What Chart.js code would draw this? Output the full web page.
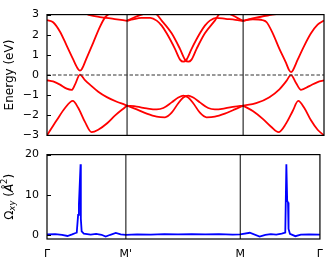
<!DOCTYPE html>
<html><head><meta charset="utf-8">
<script src="https://cdn.jsdelivr.net/npm/chart.js@4/dist/chart.umd.min.js"></script>
<style>
html,body{margin:0;padding:0;background:#fff;}
#wrap{position:relative;width:332px;height:262px;overflow:hidden;}
#c1{position:absolute;left:0;top:0;}
#c2{position:absolute;left:0;top:140px;}
</style></head><body>
<div id="wrap"><canvas id="c1" width="332" height="150"></canvas><canvas id="c2" width="332" height="122"></canvas></div>
<script>
// ---- path / ticks ----
const kTicks = [0, 0.289, 0.708, 1];
const kLabels = ['Γ', "M'", 'M', 'Γ'];
const eTicks = [-3, -2, -1, 0, 1, 2, 3];
const oTicks = [0, 10, 20];

// ---- band energies (eV) : [k, E] ----
const vbUpperLeft = [[0,-0.26],[0.022,-0.32],[0.047,-0.48],[0.071,-0.68],[0.089,-0.74],[0.101,-0.48],[0.119,0.02],[0.137,-0.25],[0.155,-0.48],[0.185,-0.83],[0.216,-1.1],[0.252,-1.33],[0.282,-1.48],[0.289,-1.52]];
const vbLowerLeft = [[0,-3.0],[0.035,-2.25],[0.065,-1.64],[0.093,-1.29],[0.113,-1.64],[0.137,-2.33],[0.161,-2.84],[0.185,-2.72],[0.216,-2.41],[0.245,-2.02],[0.282,-1.6],[0.289,-1.52]];
const vbMidA = [[0.289,-1.52],[0.324,-1.57],[0.360,-1.66],[0.396,-1.71],[0.420,-1.64],[0.450,-1.36],[0.474,-1.12],[0.492,-1.02],[0.510,-1.12],[0.528,-1.4],[0.552,-1.87],[0.576,-2.1],[0.606,-2.07],[0.642,-1.92],[0.678,-1.71],[0.708,-1.52]];
const vbMidB = [[0.289,-1.52],[0.324,-1.71],[0.360,-1.92],[0.396,-2.07],[0.426,-2.1],[0.450,-1.87],[0.474,-1.4],[0.492,-1.12],[0.510,-1.02],[0.528,-1.12],[0.552,-1.36],[0.582,-1.64],[0.606,-1.71],[0.642,-1.66],[0.678,-1.57],[0.708,-1.52]];
const vbUpperRight = [[0.708,-1.52],[0.755,-1.4],[0.803,-1.1],[0.839,-0.71],[0.863,-0.32],[0.881,-0.01],[0.899,-0.4],[0.917,-0.74],[0.947,-0.55],[0.977,-0.35],[1,-0.27]];
const vbLowerRight = [[0.708,-1.52],[0.743,-1.79],[0.779,-2.18],[0.809,-2.57],[0.836,-2.84],[0.863,-2.41],[0.887,-1.79],[0.907,-1.29],[0.929,-1.64],[0.953,-2.25],[0.977,-2.72],[1,-3.0]];
const cbLeft = [[0,2.73],[0.022,2.62],[0.047,2.15],[0.071,1.46],[0.095,0.76],[0.112,0.3],[0.119,0.22],[0.126,0.3],[0.143,0.84],[0.167,1.61],[0.191,2.39],[0.209,2.85],[0.221,3.0],[0.24,3.2]];
const cbRight = [[0.708,2.69],[0.743,2.77],[0.779,2.72],[0.793,2.62],[0.815,2.07],[0.839,1.3],[0.863,0.6],[0.874,0.24],[0.881,0.14],[0.888,0.24],[0.905,0.76],[0.929,1.46],[0.953,2.07],[0.977,2.5],[1,2.71]];
const cbMidA = [[0.289,2.69],[0.31,2.76],[0.34,2.84],[0.373,2.84],[0.396,2.7],[0.414,2.45],[0.432,2.07],[0.462,1.3],[0.481,0.75],[0.492,0.66],[0.503,0.75],[0.522,1.3],[0.552,2.07],[0.570,2.45],[0.588,2.7],[0.611,2.84],[0.645,2.79],[0.68,2.74],[0.708,2.69]];
const cbMidB = [[0.289,2.69],[0.31,2.83],[0.336,2.97],[0.36,3.06],[0.39,3.05],[0.414,2.7],[0.450,2.07],[0.480,1.3],[0.499,0.75],[0.510,0.66],[0.521,0.75],[0.540,1.3],[0.570,2.07],[0.606,2.7],[0.625,3.04],[0.66,3.02],[0.685,2.85],[0.708,2.69]];
const cbTopLeft = [[0.14,3.05],[0.155,2.97],[0.191,2.88],[0.245,2.78],[0.289,2.69]];
const cbTopRight = [[0.708,2.69],[0.755,2.85],[0.803,2.97],[0.84,3.05]];

// ---- Berry curvature Omega_xy (A^2) : [k, value] ----
const berry = [[0,0.15],[0.03,0.2],[0.055,0.05],[0.075,-0.25],[0.092,0.15],[0.105,0.5],[0.109,0.6],[0.114,5],[0.117,7.7],[0.123,17.6],[0.124,4],[0.127,0.9],[0.135,0.35],[0.16,0.1],[0.18,0.25],[0.2,0.05],[0.215,-0.4],[0.232,0.05],[0.252,0.5],[0.27,0.15],[0.289,0.05],[0.33,0.15],[0.38,0.1],[0.43,0.2],[0.48,0.15],[0.53,0.2],[0.58,0.15],[0.63,0.2],[0.68,0.1],[0.708,0.15],[0.743,0.55],[0.779,-0.4],[0.80,0.05],[0.82,0.2],[0.84,0.1],[0.86,0.35],[0.873,0.6],[0.877,17.6],[0.880,8.5],[0.883,8.1],[0.885,1.5],[0.89,0.3],[0.91,-0.3],[0.93,0.1],[0.96,0.15],[1,0.1]];

const FONT = 'DejaVu Sans';
const bands = [vbUpperLeft, vbLowerLeft, vbMidA, vbMidB, vbUpperRight, vbLowerRight, cbLeft, cbRight, cbMidA, cbMidB, cbTopLeft, cbTopRight];
const pts = a => a.map(([x, y]) => ({x, y}));
const minus = v => String(v).replace('-', '\u2212');

const framePlugin = {
  id: 'frame',
  afterDatasetsDraw(chart) {
    const a = chart.chartArea, c = chart.ctx;
    c.save();
    c.strokeStyle = '#000'; c.lineWidth = 1.2;
    c.strokeRect(a.left, a.top, a.right - a.left, a.bottom - a.top);
    const ys = chart.scales.y;
    c.lineWidth = 1;
    ys.ticks.forEach(t => {
      const p = Math.round(ys.getPixelForValue(t.value)) + 0.5;
      c.beginPath(); c.moveTo(a.left, p); c.lineTo(a.left + 4, p); c.stroke();
    });
    c.restore();
  }
};

const vline = k => (lo, hi) => ({data: [{x: k, y: lo}, {x: k, y: hi}], borderColor: '#000', borderWidth: 1, pointRadius: 0, tension: 0, clip: 0});

// ---- top panel ----
const topSets = [];
topSets.push({data: [{x: 0, y: 0}, {x: 1, y: 0}], borderColor: '#333', borderWidth: 1, borderDash: [3.5, 2], pointRadius: 0, clip: 0});
[kTicks[1], kTicks[2]].forEach(k => topSets.push(vline(k)(-3, 3)));
bands.forEach(b => topSets.push({data: pts(b), borderColor: '#ff0000', borderWidth: 1.8, pointRadius: 0, cubicInterpolationMode: 'monotone', clip: 0}));

new Chart(document.getElementById('c1'), {
  type: 'line',
  data: {datasets: topSets},
  options: {
    responsive: false, animation: false, devicePixelRatio: 1,
    layout: {padding: {left: 0, right: 8, top: 7, bottom: 14}},
    plugins: {legend: {display: false}, tooltip: {enabled: false}},
    scales: {
      x: {type: 'linear', min: 0, max: 1, display: false},
      y: {
        type: 'linear', min: -3, max: 3,
        afterBuildTicks: s => { s.ticks = eTicks.map(v => ({value: v})); },
        afterFit: s => { s.width = 47; },
        grid: {display: false, drawTicks: false},
        border: {display: false},
        ticks: {font: {family: FONT, size: 11}, color: '#000', padding: 8, callback: v => minus(v)},
        title: {display: true, text: 'Energy (eV)', color: '#000', font: {family: FONT, size: 12}, padding: {top: 3, bottom: 0}}
      }
    }
  },
  plugins: [framePlugin]
});

// ---- bottom panel ----
const botSets = [];
[kTicks[1], kTicks[2]].forEach(k => botSets.push(vline(k)(-1, 20)));
botSets.push({data: pts(berry), borderColor: '#0000ff', borderWidth: 1.8, pointRadius: 0, tension: 0, clip: 0});

const omegaTitle = {
  id: 'omegaTitle',
  afterDraw(chart) {
    const a = chart.chartArea, c = chart.ctx;
    const cy = (a.top + a.bottom) / 2, cx = 10;
    c.save();
    c.translate(cx, cy); c.rotate(-Math.PI / 2);
    c.fillStyle = '#000'; c.textBaseline = 'middle';
    const big = `12px "${FONT}"`, bigI = `italic 12px "${FONT}"`, small = `italic 8.5px "${FONT}"`, smallN = `8.5px "${FONT}"`;
    const parts = [
      ['Ω', big, 0], ['xy', small, 3], [' (', big, 0], ['Å', bigI, 0], ['2', smallN, -5], [')', big, 0]
    ];
    let w = 0;
    parts.forEach(p => { c.font = p[1]; w += c.measureText(p[0]).width; });
    let x = -w / 2;
    parts.forEach(p => { c.font = p[1]; c.fillText(p[0], x, p[2]); x += c.measureText(p[0]).width; });
    c.restore();
  }
};

new Chart(document.getElementById('c2'), {
  type: 'line',
  data: {datasets: botSets},
  options: {
    responsive: false, animation: false, devicePixelRatio: 1,
    layout: {padding: {left: 0, right: 8, top: 13, bottom: 0}},
    plugins: {legend: {display: false}, tooltip: {enabled: false}},
    scales: {
      x: {
        type: 'linear', min: 0, max: 1,
        afterBuildTicks: s => { s.ticks = kTicks.map(v => ({value: v})); },
        afterFit: s => { s.height = 23; },
        grid: {display: false, drawTicks: false},
        border: {display: false},
        ticks: {font: {family: FONT, size: 11}, color: '#000', padding: 9, maxRotation: 0, autoSkip: false,
                callback: (v, i) => kLabels[i]}
      },
      y: {
        type: 'linear', min: -1, max: 20,
        afterBuildTicks: s => { s.ticks = oTicks.map(v => ({value: v})); },
        afterFit: s => { s.width = 47; },
        grid: {display: false, drawTicks: false},
        border: {display: false},
        ticks: {font: {family: FONT, size: 11}, color: '#000', padding: 8}
      }
    }
  },
  plugins: [framePlugin, omegaTitle]
});
</script>
</body></html>
